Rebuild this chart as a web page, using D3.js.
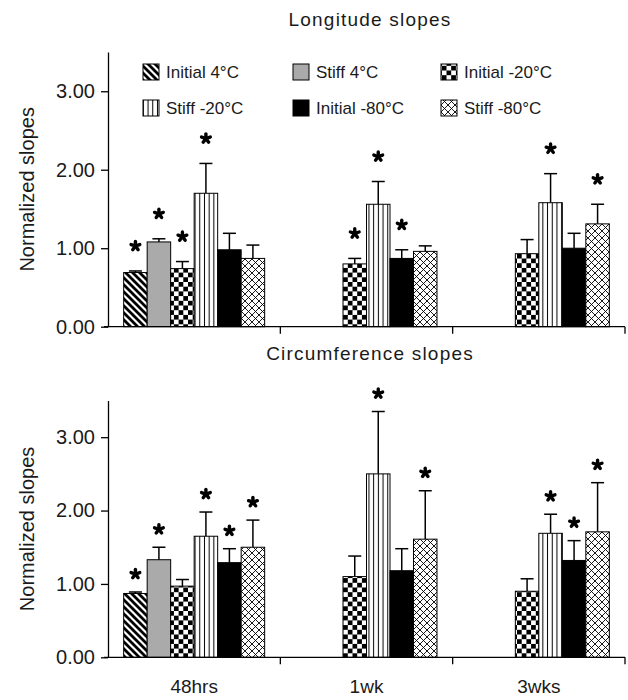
<!DOCTYPE html>
<html><head><meta charset="utf-8">
<script src="https://cdn.jsdelivr.net/npm/d3@7"></script>
<style>body{margin:0;background:#fff;} text{font-family:"Liberation Sans",Arial,sans-serif;fill:#1a1a1a;}</style>
</head><body><svg id="c" width="628" height="700"></svg>
<script>
const groups = ["48hrs", "1wk", "3wks"];
const series = ["Initial 4°C", "Stiff 4°C", "Initial -20°C", "Stiff -20°C", "Initial -80°C", "Stiff -80°C"];
const yTicks = [0, 1, 2, 3];

// Longitude slopes (per series, per group; null = not measured)
const longMeans = [[0.69, null, null],[1.08, null, null],[0.74, 0.80, 0.93],[1.70, 1.56, 1.58],[0.98, 0.87, 1.00],[0.87, 0.96, 1.31]];
const longErr   = [[0.02, null, null],[0.04, null, null],[0.09, 0.07, 0.18],[0.38, 0.29, 0.37],[0.21, 0.11, 0.19],[0.17, 0.07, 0.25]];
const longSig   = [[1, 0, 0],[1, 0, 0],[1, 1, 0],[1, 1, 1],[0, 1, 0],[0, 0, 1]];

// Circumference slopes
const circMeans = [[0.87, null, null],[1.33, null, null],[0.97, 1.10, 0.90],[1.65, 2.50, 1.69],[1.29, 1.18, 1.32],[1.50, 1.61, 1.71]];
const circErr   = [[0.02, null, null],[0.17, null, null],[0.09, 0.28, 0.17],[0.33, 0.85, 0.26],[0.19, 0.30, 0.27],[0.37, 0.66, 0.67]];
const circSig   = [[1, 0, 0],[1, 0, 0],[0, 0, 0],[1, 1, 1],[1, 0, 1],[1, 1, 1]];

const svg = d3.select("#c");
const defs = svg.append("defs");

function pat(id, w, h){ return defs.append("pattern").attr("id", id).attr("patternUnits","userSpaceOnUse").attr("width", w).attr("height", h); }
let p = pat("p0", 7, 7);
p.append("rect").attr("width",7).attr("height",7).attr("fill","#fff");
p.append("path").attr("d","M-1,-1L8,8M-4.5,2.5L-1,6M-1,6L1.5,8.5M2.5,-4.5L8.5,1.5").attr("stroke","#000").attr("stroke-width",2.8);
p = pat("p2", 9.4, 9.4);
p.append("rect").attr("width",9.4).attr("height",9.4).attr("fill","#fff");
p.append("rect").attr("width",4.7).attr("height",4.7).attr("fill","#000");
p.append("rect").attr("x",4.7).attr("y",4.7).attr("width",4.7).attr("height",4.7).attr("fill","#000");
p = pat("p3", 4.7, 10);
p.append("rect").attr("width",4.7).attr("height",10).attr("fill","#fff");
p.append("line").attr("x1",2.35).attr("x2",2.35).attr("y1",0).attr("y2",10).attr("stroke","#000").attr("stroke-width",1);
p = pat("p5", 7, 7);
p.append("rect").attr("width",7).attr("height",7).attr("fill","#fff");
p.append("path").attr("d","M0,0L7,7M7,0L0,7M-1,6L1,8M6,-1L8,1M-1,1L1,-1M6,8L8,6").attr("stroke","#000").attr("stroke-width",0.9);

const fills = ["url(#p0)", "#aaaaaa", "url(#p2)", "url(#p3)", "#000", "url(#p5)"];

const x0 = d3.scaleBand().domain(groups).range([108, 625]).padding(0);
const x1 = d3.scaleBand().domain(series).range([0, x0.bandwidth()]).paddingInner(0).paddingOuter(0.667);

function star(g, cx, cy){
  const s = g.append("g").attr("transform", `translate(${cx},${cy})`);
  for (let k = 0; k < 5; k++){
    const a = -Math.PI/2 + k*2*Math.PI/5;
    s.append("line").attr("x1",0).attr("y1",0).attr("x2",4.6*Math.cos(a)).attr("y2",4.6*Math.sin(a))
      .attr("stroke","#000").attr("stroke-width",3.4).attr("stroke-linecap","round");
  }
}

function panel(title, titleY, y0, y1, means, errs, sigs, showX, starOff){
  const y = d3.scaleLinear().domain([0, 3.5]).range([y0, y1]);
  const g = svg.append("g");
  g.append("text").attr("x", 370).attr("y", titleY).attr("text-anchor","middle").attr("font-size",19).attr("letter-spacing",1.2).text(title);
  series.forEach((s, i) => {
    groups.forEach((gr, j) => {
      const v = means[i][j];
      if (v == null) return;
      const bx = x0(gr) + x1(s), bw = x1.bandwidth();
      const e = errs[i][j];
      const cx = bx + bw/2;
      g.append("line").attr("x1",cx).attr("x2",cx).attr("y1",y(v)).attr("y2",y(v+e)).attr("stroke","#000").attr("stroke-width",1.5);
      g.append("line").attr("x1",cx-6.5).attr("x2",cx+6.5).attr("y1",y(v+e)).attr("y2",y(v+e)).attr("stroke","#000").attr("stroke-width",1.5);
      g.append("rect").attr("x",bx).attr("y",y(v)).attr("width",bw).attr("height",y(0)-y(v))
        .attr("fill",fills[i]).attr("stroke","#000").attr("stroke-width",1);
      if (sigs[i][j]) star(g, cx, y(v+e) - starOff);
    });
  });
  const ya = g.append("g").attr("transform","translate(108,0)")
    .call(d3.axisLeft(y).tickValues(yTicks).tickFormat(d3.format(".2f")).tickSize(7).tickSizeOuter(0).tickPadding(6));
  ya.select(".domain").attr("stroke","#000").attr("stroke-width",1.3);
  ya.selectAll(".tick line").attr("stroke","#000").attr("stroke-width",1.3);
  ya.selectAll("text").attr("font-size",20).attr("font-family","Liberation Sans, Arial, sans-serif").attr("fill","#1a1a1a");
  g.append("line").attr("x1",104).attr("x2",625).attr("y1",y0).attr("y2",y0).attr("stroke","#000").attr("stroke-width",1.3);
  groups.forEach(gr => {
    const xe = x0(gr) + x0.bandwidth();
    g.append("line").attr("x1",xe).attr("x2",xe).attr("y1",y0).attr("y2",y0+7).attr("stroke","#000").attr("stroke-width",1.3);
    if (showX) g.append("text").attr("x", x0(gr)+x0.bandwidth()/2).attr("y", y0+36).attr("text-anchor","middle").attr("font-size",19).text(gr);
  });
  g.append("text").attr("transform",`translate(34,${(y0+y1)/2}) rotate(-90)`).attr("text-anchor","middle").attr("font-size",20).text("Normalized slopes");
}

panel("Longitude slopes", 26, 326.7, 52, longMeans, longErr, longSig, false, 25);
panel("Circumference slopes", 360, 657.3, 400.5, circMeans, circErr, circSig, true, 18);

const lg = svg.append("g");
const colX = [143, 293, 441], rowY = [64, 100];
series.forEach((s, i) => {
  const cx = colX[i % 3], cy = rowY[Math.floor(i / 3)];
  lg.append("rect").attr("x",cx).attr("y",cy).attr("width",16).attr("height",16).attr("fill",fills[i]).attr("stroke","#000").attr("stroke-width",1);
  lg.append("text").attr("x",cx+23).attr("y",cy+14).attr("font-size",17).text(s);
});
</script></body></html>
